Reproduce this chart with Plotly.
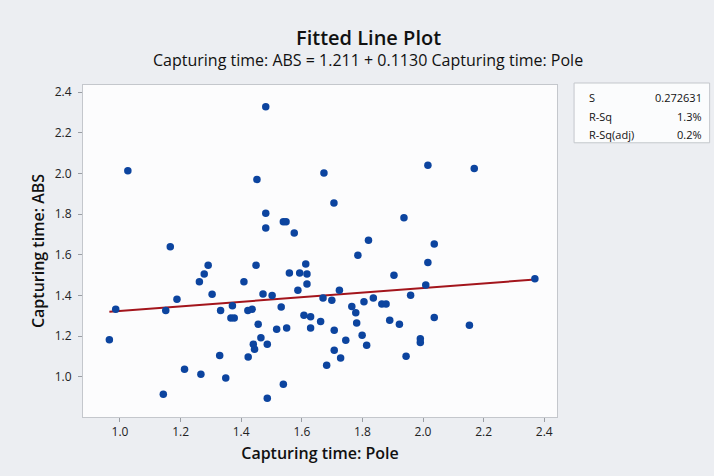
import plotly.graph_objects as go

# ---- data ----
x_pole = [1.481, 1.026, 1.452, 1.673, 2.016, 2.169, 1.706, 1.481, 1.481, 1.539,
          1.548, 1.575, 1.937, 1.820, 2.037, 1.785, 1.166, 2.016, 1.291, 1.278,
          1.262, 1.449, 1.613, 1.559, 1.593, 1.617, 1.617, 1.587, 1.904, 2.009,
          2.369, 1.409, 1.304, 1.188, 0.986, 0.965, 1.151, 1.472, 1.502, 1.724,
          1.670, 1.699, 1.836, 1.805, 1.864, 1.878, 1.959, 1.765, 1.778, 1.781,
          1.332, 1.371, 1.366, 1.377, 1.422, 1.436, 1.532, 1.607, 1.629, 1.662,
          1.629, 1.550, 1.517, 1.456, 1.707, 1.890, 1.922, 2.037, 2.153, 1.991,
          1.991, 1.799, 1.814, 1.745, 1.707, 1.728, 1.682, 1.944, 1.465, 1.440,
          1.444, 1.486, 1.423, 1.329, 1.213, 1.267, 1.349, 1.143, 1.539, 1.486]
y_abs = [2.328, 2.014, 1.971, 2.002, 2.040, 2.024, 1.855, 1.804, 1.732, 1.763,
         1.763, 1.708, 1.783, 1.672, 1.654, 1.598, 1.640, 1.562, 1.549, 1.506,
         1.468, 1.549, 1.555, 1.511, 1.511, 1.506, 1.457, 1.426, 1.500, 1.452,
         1.483, 1.468, 1.406, 1.382, 1.333, 1.183, 1.326, 1.408, 1.400, 1.426,
         1.388, 1.377, 1.388, 1.370, 1.359, 1.359, 1.401, 1.346, 1.315, 1.265,
         1.326, 1.350, 1.290, 1.290, 1.326, 1.333, 1.344, 1.303, 1.296, 1.272,
         1.241, 1.241, 1.234, 1.259, 1.229, 1.279, 1.259, 1.292, 1.254, 1.188,
         1.169, 1.205, 1.156, 1.180, 1.131, 1.093, 1.057, 1.102, 1.193, 1.161,
         1.136, 1.161, 1.098, 1.105, 1.038, 1.013, 0.995, 0.915, 0.964, 0.895]

intercept = 1.211
slope = 0.1130
stat_labels = ["S", "R-Sq", "R-Sq(adj)"]
stat_values = ["0.272631", "1.3%", "0.2%"]
x_ticks = [1.0, 1.2, 1.4, 1.6, 1.8, 2.0, 2.2, 2.4]
y_ticks = [1.0, 1.2, 1.4, 1.6, 1.8, 2.0, 2.2, 2.4]

FONT = "Open Sans"

line_x = [min(x_pole), max(x_pole)]
line_y = [intercept + slope * v for v in line_x]

fig = go.Figure()
fig.add_trace(go.Scatter(x=line_x, y=line_y, mode="lines",
                         line=dict(color="#a3151c", width=2), showlegend=False,
                         hoverinfo="skip"))
fig.add_trace(go.Scatter(x=x_pole, y=y_abs, mode="markers",
                         marker=dict(color="#0c449f", size=7.5), showlegend=False))

# title and subtitle
fig.add_annotation(text="Fitted Line Plot", xref="paper", yref="paper",
                   x=0.602, y=1.142, xanchor="center", yanchor="middle",
                   showarrow=False,
                   font=dict(family=FONT, size=20, color="#111111", weight=600))
fig.add_annotation(text="Capturing time: ABS = %.3f + %.4f Capturing time: Pole" % (intercept, slope),
                   xref="paper", yref="paper", x=0.602, y=1.074,
                   xanchor="center", yanchor="middle", showarrow=False,
                   font=dict(family=FONT, size=16, color="#111111", weight=500))

# stats box
fig.add_shape(type="rect", xref="paper", yref="paper",
              x0=1.036, x1=1.322, y0=0.826, y1=1.006,
              line=dict(color="#c4c7cc", width=1), fillcolor="#fbfcfd")
row_y = [0.962, 0.906, 0.85]
for lab, val, yy in zip(stat_labels, stat_values, row_y):
    fig.add_annotation(text=lab, xref="paper", yref="paper", x=1.063, y=yy,
                       xanchor="left", yanchor="middle", showarrow=False,
                       font=dict(family=FONT, size=11, color="#111111"))
    fig.add_annotation(text=val, xref="paper", yref="paper", x=1.31, y=yy,
                       xanchor="right", yanchor="middle", showarrow=False,
                       font=dict(family=FONT, size=11, color="#111111"))

fig.update_layout(
    width=714, height=476,
    margin=dict(l=83, r=157, t=85, b=59),
    paper_bgcolor="#eceef2",
    plot_bgcolor="#fcfcfd",
    font=dict(family=FONT, color="#222222"),
    xaxis=dict(range=[0.878, 2.442], tickvals=x_ticks,
               ticktext=["%.1f" % v for v in x_ticks],
               showgrid=False, zeroline=False, showline=True, mirror=True,
               linecolor="#c4c7cc", linewidth=1, ticks="outside", ticklen=4,
               tickcolor="#9a9ea4",
               tickfont=dict(size=12, color="#222222", weight=500),
               title=dict(text="Capturing time: Pole",
                          font=dict(size=16, color="#111111", weight=600),
                          standoff=8)),
    yaxis=dict(range=[0.803, 2.435], tickvals=y_ticks,
               ticktext=["%.1f" % v for v in y_ticks],
               showgrid=False, zeroline=False, showline=True, mirror=True,
               linecolor="#c4c7cc", linewidth=1, ticks="outside", ticklen=4,
               tickcolor="#9a9ea4", ticklabelstandoff=4,
               tickfont=dict(size=12, color="#222222", weight=500),
               title=dict(text="Capturing time: ABS",
                          font=dict(size=16, color="#111111", weight=600),
                          standoff=6)),
)

fig.write_html("out.html")
